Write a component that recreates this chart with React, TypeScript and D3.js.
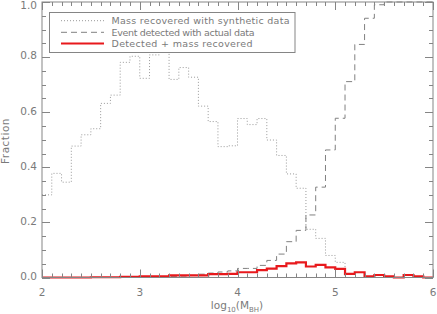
import React from 'react';
import * as d3 from 'd3';

// left edges of the log10(M_BH) bins
const binStarts = [
  2.0, 2.1, 2.2, 2.3, 2.4, 2.5, 2.6, 2.7, 2.8, 2.9,
  3.0, 3.1, 3.2, 3.3, 3.4, 3.5, 3.6, 3.7, 3.8, 3.9,
  4.0, 4.1, 4.2, 4.3, 4.4, 4.5, 4.6, 4.7, 4.8, 4.9,
  5.0, 5.1, 5.2, 5.3, 5.4, 5.5, 5.6, 5.7, 5.8, 5.9,
];
const binEnd = 6.0;

const massRecovered = [
  0.30, 0.378, 0.346, 0.477, 0.518, 0.54, 0.632, 0.662, 0.781, 0.803,
  0.723, 0.808, 0.823, 0.719, 0.762, 0.727, 0.622, 0.566, 0.475, 0.478,
  0.577, 0.555, 0.577, 0.499, 0.443, 0.376, 0.324, 0.175, 0.142, 0.08,
  0.055, 0, 0, 0, 0, 0, 0, 0, 0, 0,
];
const eventDetected = [
  0, 0, 0, 0, 0, 0, 0, 0, 0, 0,
  0.001, 0.002, 0.003, 0.004, 0.005, 0.008, 0.012, 0.016, 0.02, 0.024,
  0.033, 0.033, 0.044, 0.062, 0.085, 0.13, 0.171, 0.227, 0.328, 0.463,
  0.578, 0.711, 0.846, 0.941, 0.99, 1, 1, 1, 1, 1,
];
const detectedAndRecovered = [
  0, 0, 0, 0, 0, 0.001, 0.001, 0.001, 0.002, 0.002,
  0.004, 0.004, 0.004, 0.008, 0.008, 0.008, 0.008, 0.012, 0.012, 0.013,
  0.019, 0.019, 0.027, 0.032, 0.041, 0.051, 0.055, 0.04, 0.046, 0.037,
  0.031, 0.013, 0.019, 0.004, 0.009, 0.004, 0, 0.009, 0.004, 0,
];

const xTicks = [2, 3, 4, 5, 6];
const yTicks = [0, 0.2, 0.4, 0.6, 0.8, 1.0];
const legendLabels = [
  'Mass recovered with synthetic data',
  'Event detected with actual data',
  'Detected + mass recovered',
];
const legendWidths = [178, 143, 141];

const W = 437;
const H = 314;
const plot = { left: 42, right: 433, top: 2, bottom: 277.5 };
const axisColor = '#858585';
const textColor = '#7a7a7a';
const font = 'DejaVu Sans, sans-serif';

export default function App() {
  const x = d3.scaleLinear().domain([2, 6]).range([plot.left, plot.right]);
  const y = d3.scaleLinear().domain([0, 1]).range([plot.bottom, plot.top]);

  const stepLine = (vals: number[]) => {
    const pts: [number, number][] = binStarts.map((b, i) => [b, vals[i]]);
    pts.push([binEnd, vals[vals.length - 1]]);
    return d3
      .line<[number, number]>()
      .x(d => x(d[0]))
      .y(d => y(d[1]))
      .curve(d3.curveStepAfter)(pts)!;
  };

  const xMinor = d3.range(20, 61).map(d => d / 10);
  const yMinor = d3.range(0, 21).map(d => d / 20);

  const series = [
    { vals: massRecovered, stroke: '#999', dash: '1,2', width: 1 },
    { vals: eventDetected, stroke: '#808080', dash: '6,4', width: 1 },
    { vals: detectedAndRecovered, stroke: '#e8191c', dash: undefined, width: 2.2 },
  ];

  const legend = { x: 49.5, y: 12.5, w: 245.5, h: 40 };
  const rowY = [20.7, 32.3, 43.5];

  return (
    <svg width={W} height={H} style={{ position: 'absolute', left: 0, top: 0, background: '#fff' }}>
      {/* data */}
      <g fill="none">
        {series.map((s, i) => (
          <path key={i} d={stepLine(s.vals)} stroke={s.stroke} strokeWidth={s.width}
            strokeDasharray={s.dash} />
        ))}
      </g>

      {/* frame */}
      <rect x={plot.left} y={plot.top} width={plot.right - plot.left} height={plot.bottom - plot.top}
        fill="none" stroke={axisColor} strokeWidth={1} />

      {/* ticks on all four sides */}
      <g stroke={axisColor} strokeWidth={1}>
        {xMinor.map((t, i) => {
          const len = i % 10 === 0 ? 8 : 4;
          const px = Math.round(x(t)) + 0.5;
          return (
            <g key={i}>
              <line x1={px} x2={px} y1={plot.bottom} y2={plot.bottom - len} />
              <line x1={px} x2={px} y1={plot.top} y2={plot.top + len} />
            </g>
          );
        })}
        {yMinor.map((t, i) => {
          const len = i % 4 === 0 ? 8 : 4;
          const py = Math.round(y(t)) + 0.5;
          return (
            <g key={i}>
              <line x1={plot.left} x2={plot.left + len} y1={py} y2={py} />
              <line x1={plot.right} x2={plot.right - len} y1={py} y2={py} />
            </g>
          );
        })}
      </g>

      {/* tick labels */}
      <g fill={textColor} fontFamily={font} fontSize={10.5}>
        {xTicks.map(t => (
          <text key={t} x={x(t)} y={296} textAnchor="middle">{t}</text>
        ))}
        {yTicks.map(t => (
          <text key={t} x={37} y={Math.max(y(t) - 1.5, 5) + 3.8} textAnchor="end">{t.toFixed(1)}</text>
        ))}
      </g>

      {/* axis titles */}
      <text fill={textColor} fontFamily={font} fontSize={10.5} transform="translate(8.5,141) rotate(-90)"
        textAnchor="middle" letterSpacing={0.5}>Fraction</text>
      <text fill={textColor} fontFamily={font} fontSize={10.5} x={237} y={309} textAnchor="middle">
        log<tspan fontSize={7} dy={2.5}>10</tspan><tspan dy={-2.5}>(M</tspan>
        <tspan fontSize={7} dy={2.5}>BH</tspan><tspan dy={-2.5}>)</tspan>
      </text>

      {/* legend */}
      <rect x={legend.x} y={legend.y} width={legend.w} height={legend.h} fill="#fff"
        stroke={axisColor} strokeWidth={1} />
      {series.map((s, i) => (
        <g key={i}>
          <line x1={61} x2={104} y1={rowY[i]} y2={rowY[i]} stroke={s.stroke}
            strokeWidth={s.width} strokeDasharray={s.dash} />
          <text x={111.5} y={rowY[i] + 3.5} fill={textColor} fontFamily={font} fontSize={9.5}
            textLength={legendWidths[i]} lengthAdjust="spacing">
            {legendLabels[i]}
          </text>
        </g>
      ))}
    </svg>
  );
}
